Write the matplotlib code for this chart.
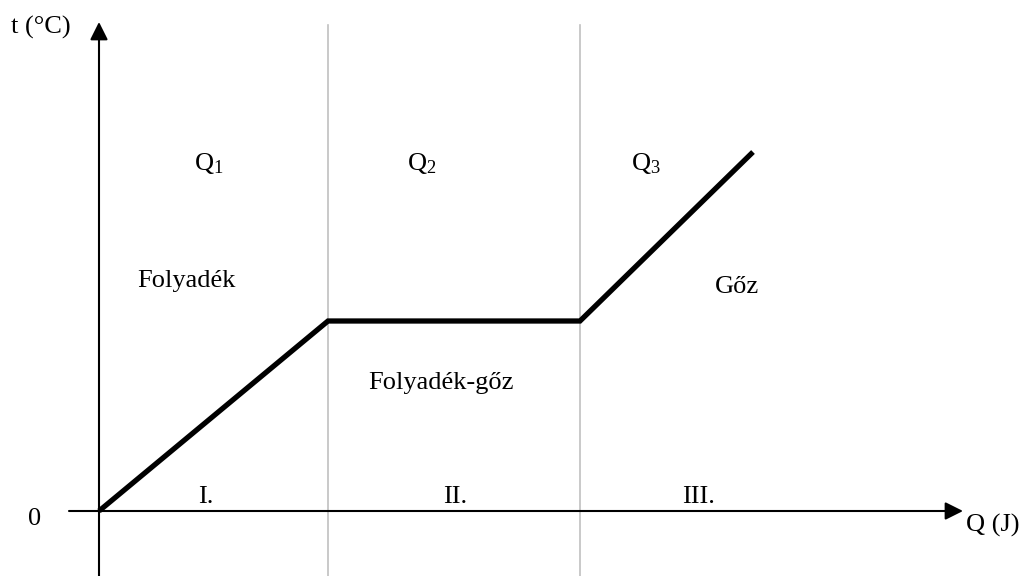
import matplotlib
matplotlib.use("Agg")
import matplotlib.pyplot as plt

plt.rcParams['font.family'] = ['Liberation Serif', 'DejaVu Serif']
plt.rcParams['mathtext.default'] = 'regular'

# Data (arbitrary units: heat Q vs temperature t)
Q_values = [0, 229, 481, 654]
t_values = [0, 190, 190, 359]
phase_bounds = [229, 481]

region_numerals = ["I.", "II.", "III."]
region_numeral_x = [107, 356, 600]
heat_labels = [r"Q$_1$", r"Q$_2$", r"Q$_3$"]
heat_label_x = [110, 323, 547]
state_labels = ["Folyadék", "Folyadék-gőz", "Gőz"]
state_label_xy = [(87, 224), (342, 122), (638, 218)]

fig = plt.figure(figsize=(10.24, 5.76), dpi=100)
ax = fig.add_axes([0, 0, 1, 1])
ax.set_xlim(-99, 925)
ax.set_ylim(-65, 511)
ax.axis('off')

# phase boundaries
for xb in phase_bounds:
    ax.plot([xb, xb], [-65, 486], color='#c0c0c0', lw=1.2, zorder=1)

# axes with arrows
arrow = dict(arrowstyle='-|>,head_length=0.54,head_width=0.27', mutation_scale=20,
             lw=1.5, color='black', shrinkA=0, shrinkB=0)
ax.annotate('', xy=(864, 0), xytext=(-30, 0), arrowprops=arrow, zorder=2)
ax.annotate('', xy=(0, 489), xytext=(0, -65), arrowprops=arrow, zorder=2)

# heating curve
ax.plot(Q_values, t_values, color='black', lw=3.8, solid_joinstyle='miter',
        solid_capstyle='butt', zorder=3)

fs = 19
ax.text(-58, 484, "t (°C)", fontsize=fs, ha='center', va='center')
ax.text(-64, -8, "0", fontsize=fs, ha='center', va='center')
ax.text(894, -14, "Q (J)", fontsize=fs, ha='center', va='center')

for lab, x in zip(heat_labels, heat_label_x):
    ax.text(x, 341, lab, fontsize=fs, ha='center', va='baseline')
for lab, (x, y) in zip(state_labels, state_label_xy):
    ax.text(x, y, lab, fontsize=fs, ha='center', va='baseline')
for lab, x in zip(region_numerals, region_numeral_x):
    ax.text(x, 8, lab, fontsize=fs, ha='center', va='baseline')

fig.savefig("out.png", dpi=100)
